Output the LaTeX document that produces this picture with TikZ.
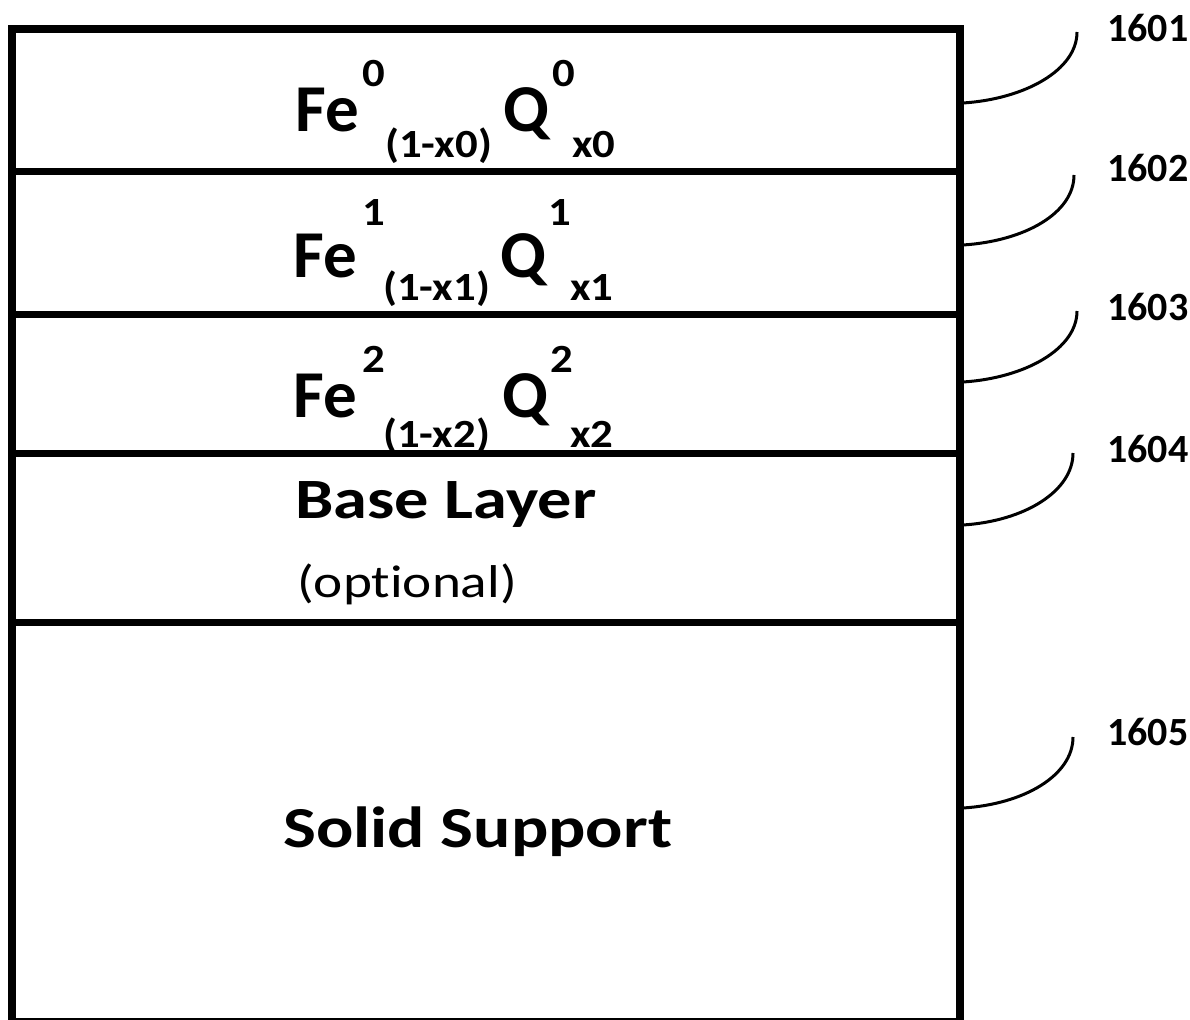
\documentclass[tikz,border=0pt]{standalone}
\usepackage{fontspec}
\setmainfont{Carlito}
\newfontfamily\widefont[FakeStretch=1.2,Ligatures=NoCommon]{Carlito}
\newfontfamily\subfont[FakeStretch=1.12]{Carlito}
\begin{document}
\begin{tikzpicture}[x=1pt,y=-1pt,
  layerline/.style={line width=7pt},
  leader/.style={line width=3pt},
  big/.style={font=\bfseries\fontsize{67}{67}\selectfont, inner sep=0pt, anchor=base west},
  small/.style={font=\subfont\bfseries\fontsize{40}{40}\selectfont, inner sep=0pt, anchor=base west},
  reflabel/.style={font=\bfseries\fontsize{40}{40}\selectfont, inner sep=0pt, anchor=base west}]
\useasboundingbox (0,0) rectangle (1190,1019);
\begin{scope}
\clip (0,0) rectangle (1190,1019);
% layer separators
\draw[layerline] (12,172) -- (960,172);
\draw[layerline] (12,314) -- (960,314);
\draw[layerline] (12,453) -- (960,453);
\draw[layerline] (12,622) -- (960,622);
\draw[line width=8pt] (12,1022) -- (12,29) -- (960,29) -- (960,1022) -- cycle;
\end{scope}
% row 0
\node[big] (fe0) at (295,132) {Fe};
\node[small] (fe0s) at (362,87) {0};
\node[small] (fe0b) at (385,158) {(1-x0)};
\node[big] (q0) at (503,132) {Q};
\node[small] (q0s) at (552,87) {0};
\node[small] (q0b) at (572,158) {x0};
% row 1
\node[big] (fe1) at (293,277) {Fe};
\node[small] (fe1s) at (362,225) {1};
\node[small] (fe1b) at (383,300) {(1-x1)};
\node[big] (q1) at (500,277) {Q};
\node[small] (q1s) at (548,225) {1};
\node[small] (q1b) at (570,300) {x1};
% row 2
\node[big] (fe2) at (293,417) {Fe};
\node[small] (fe2s) at (362,372) {2};
\node[small] (fe2b) at (383,447) {(1-x2)};
\node[big] (q2) at (502,417) {Q};
\node[small] (q2s) at (550,372) {2};
\node[small] (q2b) at (570,447) {x2};
% base layer
\node[font=\widefont\bfseries\fontsize{57}{57}\selectfont, inner sep=0pt, anchor=base west] (base) at (295,518) {Base Layer};
\node[font=\widefont\fontsize{46}{46}\selectfont, inner sep=0pt, anchor=base west] (opt) at (297,597) {(optional)};
% solid support
\node[font=\widefont\bfseries\fontsize{58}{58}\selectfont, inner sep=0pt, anchor=base west] (solid) at (283,847) {Solid Support};
% reference labels
\node[reflabel] (l1) at (1107,42) {1601};
\node[reflabel] (l2) at (1107,182) {1602};
\node[reflabel] (l3) at (1107,320) {1603};
\node[reflabel] (l4) at (1107,462) {1604};
\node[reflabel] (l5) at (1107,745) {1605};
\coordinate (s1) at (963,103); \coordinate (e1) at (1077,32);
\coordinate (s2) at (963,245); \coordinate (e2) at (1074,175);
\coordinate (s3) at (963,382); \coordinate (e3) at (1077,311);
\coordinate (s4) at (963,525); \coordinate (e4) at (1073,453);
\coordinate (s5) at (963,808); \coordinate (e5) at (1073,737);
\foreach \i in {1,...,5}{
  \draw[leader] (s\i) .. controls ([xshift=62,yshift=4]s\i) and ([yshift=-38]e\i) .. (e\i);
}
\end{tikzpicture}
\end{document}
